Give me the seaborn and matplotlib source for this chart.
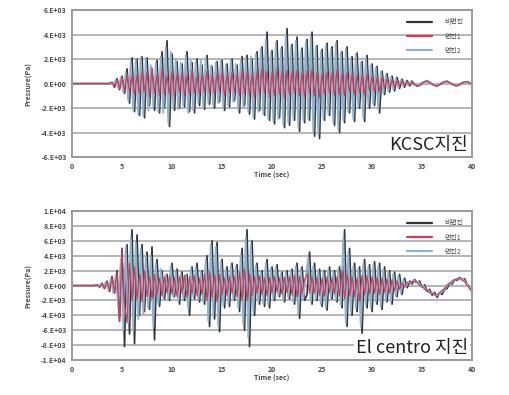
import numpy as np
import pandas as pd
import matplotlib
matplotlib.use("Agg")
import matplotlib.pyplot as plt
import seaborn as sns

# === Data (pressure in 1e3 Pa, sampled every 0.25 s) ===
DT = 0.25
SCALE = 1000.0

labels = ["비면진", "면진1", "면진2"]
colors = {"비면진": "#333333", "면진1": "#d63a55", "면진2": "#8fb2cf"}

# KCSC earthquake
kcsc_nonisolated = [
    0, 0, 0, 0, 0, 0, 0, 0, 0, 0, 0, 0, 0, 0, 0, 0,
    0.1, -0.3, 0.4, -0.5, 0.6, -0.8, 1.2, -1.6,
    2.1, -2.3, 2.0, -2.6, 2.2, -2.8, 2.1, -1.8,
    1.2, -2.2, 1.9, -2.4, 2.6, -2.0, 3.5, -3.5,
    2.4, -2.2, 1.8, -2.0, 1.6, -1.9, 2.6, -2.3,
    1.7, -2.4, 2.0, -1.8, 1.5, -2.1, 2.3, -1.7,
    1.4, -2.0, 1.8, -1.5, 1.9, -2.2, 1.6, -1.9,
    2.0, -1.4, 1.5, -2.4, 2.2, -1.8, 2.3, -2.5,
    2.0, -2.9, 2.6, -2.2, 3.0, -2.6, 4.2, -3.0,
    2.7, -3.3, 3.5, -2.8, 3.0, -3.6, 4.5, -3.4,
    3.2, -3.0, 3.8, -3.9, 2.9, -3.2, 3.6, -3.0,
    4.2, -4.3, 3.1, -4.5, 2.8, -3.0, 3.3, -2.6,
    3.0, -3.4, 3.5, -4.0, 2.6, -3.2, 3.0, -2.4,
    2.2, -3.1, 2.5, -2.0, 1.8, -3.1, 2.3, -2.0,
    1.6, -1.8, 1.4, -2.4, 1.0, -0.9, 0.8, -0.7,
    0.6, -0.6, 0.5, -0.4, 0.35, -0.3, 0.25, -0.2,
    0.2, -0.1, -0.2, -0.15, 0.05, 0.15, 0.2, 0.1,
    -0.05, -0.15, -0.2, -0.1, 0.05, 0.15, 0.18, 0.08,
    -0.05, -0.15, -0.18, -0.08, 0.05, 0.12, 0.15, 0.05,
    -0.05,
]
kcsc_iso1 = [
    0, 0, 0, 0, 0, 0, 0, 0, 0, 0, 0, 0, 0, 0, 0, 0,
    0.1, -0.2, 0.3, -0.4, 0.5, -0.6, 0.8, -0.7,
    0.6, -0.9, 0.7, -0.8, 1.0, -0.6, 0.9, -1.1,
    1.3, -0.8, 0.7, -1.0, 1.2, -0.9, 0.6, -0.8,
    1.0, -1.1, 0.8, -0.7, 0.9, -1.0, 0.7, -0.9,
    1.1, -0.8, 0.6, -0.9, 0.8, -0.7, 1.0, -0.8,
    0.7, -0.9, 0.8, -0.6, 0.9, -1.0, 0.7, -0.8,
    0.9, -0.7, 0.8, -1.0, 1.1, -0.8, 0.9, -1.0,
    0.8, -1.1, 1.0, -0.9, 1.2, -0.8, 1.0, -1.1,
    0.9, -1.0, 1.2, -0.9, 1.0, -1.2, 1.1, -0.9,
    1.0, -0.8, 1.1, -1.0, 0.9, -1.1, 1.0, -0.8,
    1.2, -1.0, 0.9, -1.1, 0.8, -0.9, 1.0, -0.8,
    0.9, -1.0, 1.1, -0.9, 0.8, -1.0, 0.9, -0.7,
    0.8, -0.9, 0.7, -0.8, 0.7, -0.9, 0.8, -0.6,
    0.6, -0.7, 0.5, -0.6, 0.5, -0.4, 0.4, -0.35,
    0.3, -0.3, 0.25, -0.2, 0.2, -0.15, 0.15, -0.1,
    0.15, -0.05, -0.18, -0.15, 0.02, 0.15, 0.2, 0.1,
    -0.05, -0.15, -0.2, -0.1, 0.05, 0.15, 0.18, 0.08,
    -0.05, -0.15, -0.18, -0.08, 0.05, 0.12, 0.15, 0.05,
    -0.05,
]
# sampled half a step later than the other two
kcsc_iso2 = [
    0, 0, 0, 0, 0, 0, 0, 0, 0, 0, 0, 0, 0, 0, 0, 0,
    -0.1, 0.3, -0.4, 0.5, -0.7, 0.9, -1.4, 1.8,
    -2.2, 2.0, -2.5, 2.1, -2.6, 2.0, -2.2, 1.5,
    -1.9, 1.7, -2.3, 2.2, -2.4, 3.0, -3.2, 2.6,
    -2.0, 1.9, -2.1, 1.7, -1.8, 2.3, -2.4, 1.9,
    -2.2, 1.8, -1.6, 1.9, -2.0, 2.1, -1.6, 1.5,
    -1.8, 1.7, -1.6, 1.8, -2.0, 1.5, -1.8, 1.9,
    -1.5, 1.6, -2.2, 2.0, -1.9, 2.1, -2.3, 2.2,
    -2.7, 2.4, -2.3, 2.8, -2.5, 3.6, -2.9, 2.5,
    -3.1, 3.3, -2.9, 2.8, -3.4, 4.0, -3.2, 3.0,
    -2.8, 3.5, -3.6, 2.7, -3.0, 3.4, -2.9, 3.8,
    -4.0, 3.0, -4.2, 2.6, -2.9, 3.1, -2.5, 2.8,
    -3.2, 3.3, -3.7, 2.5, -3.0, 2.8, -2.3, 2.0,
    -2.9, 2.4, -1.9, 1.7, -2.8, 2.1, -1.8, 1.5,
    -1.7, 1.3, -2.1, 1.0, -0.8, 0.7, -0.6, 0.5,
    -0.5, 0.4, -0.35, 0.3, -0.25, 0.2, -0.15, 0.15,
    -0.1, -0.15, -0.12, 0.05, 0.12, 0.18, 0.1, -0.05,
    -0.12, -0.18, -0.1, 0.05, 0.12, 0.16, 0.08, -0.04,
    -0.12, -0.16, -0.07, 0.04, 0.1, 0.13, 0.05, -0.04,
]

# El centro earthquake
elc_nonisolated = [
    0, 0, 0, 0, 0, 0, 0, 0, 0, 0, 0.1, -0.2, 0.3, -0.4, 0.6, -0.8,
    1.2, -1.0, 2.0, -4.8, 5.0, -8.2, 5.5, -6.5,
    7.5, -7.8, 6.8, -4.0, 5.5, -3.5, 4.5, -3.2,
    5.2, -7.3, 3.5, -2.8, 2.0, -1.8, 1.5, -2.0,
    3.0, -1.5, 2.2, -2.5, 1.8, -2.0, 1.5, -4.0,
    2.5, -1.8, 3.0, -2.2, 2.0, -2.5, 4.0, -5.5,
    6.0, -4.5, 5.8, -6.2, 3.5, -3.0, 2.5, -2.8,
    3.0, -2.0, 2.8, -3.5, 5.0, -6.0, 7.5, -8.2,
    6.0, -4.0, 3.0, -2.5, 2.0, -2.8, 3.5, -3.0,
    2.5, -2.0, 2.8, -1.5, 1.8, -2.2, 2.0, -1.8,
    2.2, -2.5, 3.0, -4.4, 2.5, -2.0, -1.2, 4.5,
    -2.5, 3.0, -2.0, 2.2, -2.8, 2.0, -3.3, 2.5,
    -1.8, 2.0, -2.2, 2.5, -3.0, 7.5, -5.5, 5.0,
    -4.0, 3.0, -3.5, 2.5, -6.4, 3.5, -3.0, 2.8,
    -3.5, 3.2, -2.5, 3.0, -3.2, 2.5, -2.2, 2.0,
    -2.5, 1.8, -1.5, 1.5, -1.2, 1.0, -0.3, 0.6,
    0.2, 0.8, 0.4, 0.6, -0.2, 0.1, -0.8, -0.5,
    -1.3, -0.9, -1.6, -1.0, -1.2, -0.5, -0.4, 0.3,
    0.2, 0.8, 0.7, 1.1, 0.8, 0.9, 0.2, -0.3,
    -0.8,
]
elc_iso1 = [
    0, 0, 0, 0, 0, 0, 0, 0, 0, 0, 0.1, -0.2, 0.3, -0.4, 0.5, -0.6,
    1.0, -0.8, 1.8, -4.8, 5.0, -2.5, -5.0, 3.0,
    -2.0, 2.5, -1.8, 1.5, -2.2, 2.0, -1.5, 1.2,
    -1.8, 1.5, -1.2, 1.0, -1.4, 1.2, -1.0, 1.3,
    -1.2, 1.0, -1.5, 1.2, -1.0, 1.4, -1.6, 1.2,
    -1.0, 1.3, -1.4, 1.0, -1.2, 1.6, -2.0, 1.8,
    -1.6, 1.4, -2.2, 1.5, -1.2, 1.0, -1.3, 1.2,
    -1.0, 1.2, -1.5, 1.8, -2.0, 2.2, -2.0, 1.6,
    -1.4, 1.2, -1.0, 1.3, -1.2, 1.0, -1.4, 1.1,
    -1.0, 1.2, -0.9, 1.0, -1.2, 1.1, -1.0, 1.2,
    -1.3, 1.4, -1.6, 1.2, -1.0, 0.8, 1.5, -1.0,
    1.2, -1.0, 1.1, -1.3, 1.0, -1.4, 1.2, -0.9,
    1.0, -1.1, 1.2, -1.4, 2.0, -1.8, 1.6, -1.4,
    1.2, -1.5, 1.0, -2.0, 1.4, -1.2, 1.3, -1.1,
    1.2, -1.0, 1.1, -1.2, 1.0, -0.9, 0.9, -1.0,
    0.8, -0.7, 0.6, -0.5, 0.3, -0.2, 0.4, 0.2,
    0.6, 0.5, 0.4, 0.0, -0.1, -0.5, -0.6, -1.0,
    -1.0, -1.3, -1.2, -1.0, -0.6, -0.4, 0.1, 0.3,
    0.6, 0.8, 0.9, 1.0, 0.7, 0.5, 0.0, -0.4,
    -0.7,
]
elc_iso2 = [
    0, 0, 0, 0, 0, 0, 0, 0, 0, 0, -0.1, 0.2, -0.3, 0.5, -0.6, 0.9,
    -1.0, 1.5, -3.0, 3.5, -6.0, 5.2, -5.0, 6.5,
    -6.0, 5.8, -4.5, 5.0, -3.8, 4.0, -3.0, 4.0,
    -5.5, 3.0, -2.5, 2.2, -1.6, 1.5, -1.8, 2.6,
    -1.6, 2.0, -2.2, 1.5, -1.8, 1.4, -3.2, 2.2,
    -1.6, 2.5, -2.0, 1.8, -2.2, 3.5, -4.8, 5.5,
    -4.0, 5.2, -5.5, 3.2, -2.6, 2.2, -2.5, 2.7,
    -1.8, 2.5, -3.0, 4.2, -5.2, 6.5, -7.0, 5.5,
    -3.5, 2.7, -2.2, 1.8, -2.5, 3.0, -2.6, 2.2,
    -1.8, 2.5, -1.4, 1.6, -2.0, 1.8, -1.6, 2.0,
    -2.2, 2.6, -3.8, 2.2, -1.8, 1.2, 3.8, -2.2,
    2.6, -1.8, 2.0, -2.5, 1.8, -3.0, 2.2, -1.6,
    1.8, -2.0, 2.2, -2.6, 6.5, -5.0, 4.4, -3.6,
    2.6, -3.0, 2.2, -5.5, 3.0, -2.6, 2.5, -3.0,
    2.8, -2.2, 2.6, -2.8, 2.2, -2.0, 1.8, -2.2,
    1.6, -1.4, 1.3, -1.0, 0.8, -0.2, 0.5, 0.3,
    0.7, 0.5, 0.5, -0.1, 0.0, -0.6, -0.6, -1.1,
    -1.0, -1.4, -1.2, -1.0, -0.6, -0.3, 0.2, 0.3,
    0.7, 0.8, 1.0, 0.9, 0.8, 0.4, -0.1, -0.6,
]

kcsc_ticks = [-6000, -4000, -2000, 0, 2000, 4000, 6000]
elc_ticks = [-10000, -8000, -6000, -4000, -2000, 0, 2000, 4000, 6000, 8000, 10000]
x_ticks = [0, 5, 10, 15, 20, 25, 30, 35, 40]


def to_frame(vals, name, offset=0.0):
    return pd.DataFrame({
        "time": np.arange(len(vals)) * DT + offset,
        "pressure": np.array(vals) * SCALE,
        "series": name,
    })


def sci_label(v):
    if v == 0:
        return "0.E+00"
    exp = int(np.floor(np.log10(abs(v))))
    mant = int(round(v / 10 ** exp))
    return f"{mant}.E+{exp:02d}"


def draw_panel(ax, black, red, blue, ticks, title):
    # draw order: black under blue, red on top
    for vals, name, off, lw in [(black, "비면진", 0.0, 1.2),
                                (blue, "면진2", DT / 2, 1.3),
                                (red, "면진1", 0.0, 0.8)]:
        df = to_frame(vals, name, off)
        sns.lineplot(data=df, x="time", y="pressure", ax=ax, color=colors[name],
                     lw=lw, label=name, estimator=None, sort=False)

    ax.set_xlim(0, 40)
    ax.set_ylim(ticks[0], ticks[-1])
    ax.set_xticks(x_ticks)
    ax.set_yticks(ticks)
    ax.set_yticklabels([sci_label(t) for t in ticks])
    ax.grid(axis="y", color="#b4b4b4", lw=1.4)
    ax.grid(axis="x", visible=False)
    for sp in ax.spines.values():
        sp.set_color("#9a9a9a")
        sp.set_linewidth(1.4)
    ax.tick_params(length=0, labelsize=5, labelcolor="#4a4a4a", pad=4)
    for lab in ax.get_xticklabels() + ax.get_yticklabels():
        lab.set_fontweight("bold")
    ax.set_xlabel("Time (sec)", fontsize=5, color="#4a4a4a", fontweight="bold", labelpad=1)
    ax.set_ylabel("Pressure(Pa)", fontsize=5, color="#4a4a4a", fontweight="bold", labelpad=6)

    handles, labs = ax.get_legend_handles_labels()
    order = [labs.index(n) for n in labels]
    leg = ax.legend([handles[i] for i in order], labels, loc="upper right", frameon=False,
                    fontsize=5, handlelength=3.6, handletextpad=1.8, labelspacing=0.9,
                    borderaxespad=0.8)
    for txt in leg.get_texts():
        txt.set_color("#4a4a4a")
    for ln in leg.get_lines():
        ln.set_linewidth(1.6)

    ax.text(0.99, 0.02, title, transform=ax.transAxes, ha="right", va="bottom",
            fontsize=13, color="#222222",
            bbox=dict(facecolor="white", edgecolor="none", pad=1.0))


sns.set_theme(style="white")
plt.rcParams["font.family"] = ["Noto Sans CJK KR", "DejaVu Sans"]
plt.rcParams["axes.unicode_minus"] = False

fig = plt.figure(figsize=(5.09, 3.95), dpi=100)
ax1 = fig.add_axes([0.1415, 0.6025, 0.786, 0.372])
ax2 = fig.add_axes([0.1415, 0.0886, 0.786, 0.377])

draw_panel(ax1, kcsc_nonisolated, kcsc_iso1, kcsc_iso2, kcsc_ticks, "KCSC지진")
draw_panel(ax2, elc_nonisolated, elc_iso1, elc_iso2, elc_ticks, "El centro 지진")

fig.savefig("out.png", dpi=100, facecolor="white")
